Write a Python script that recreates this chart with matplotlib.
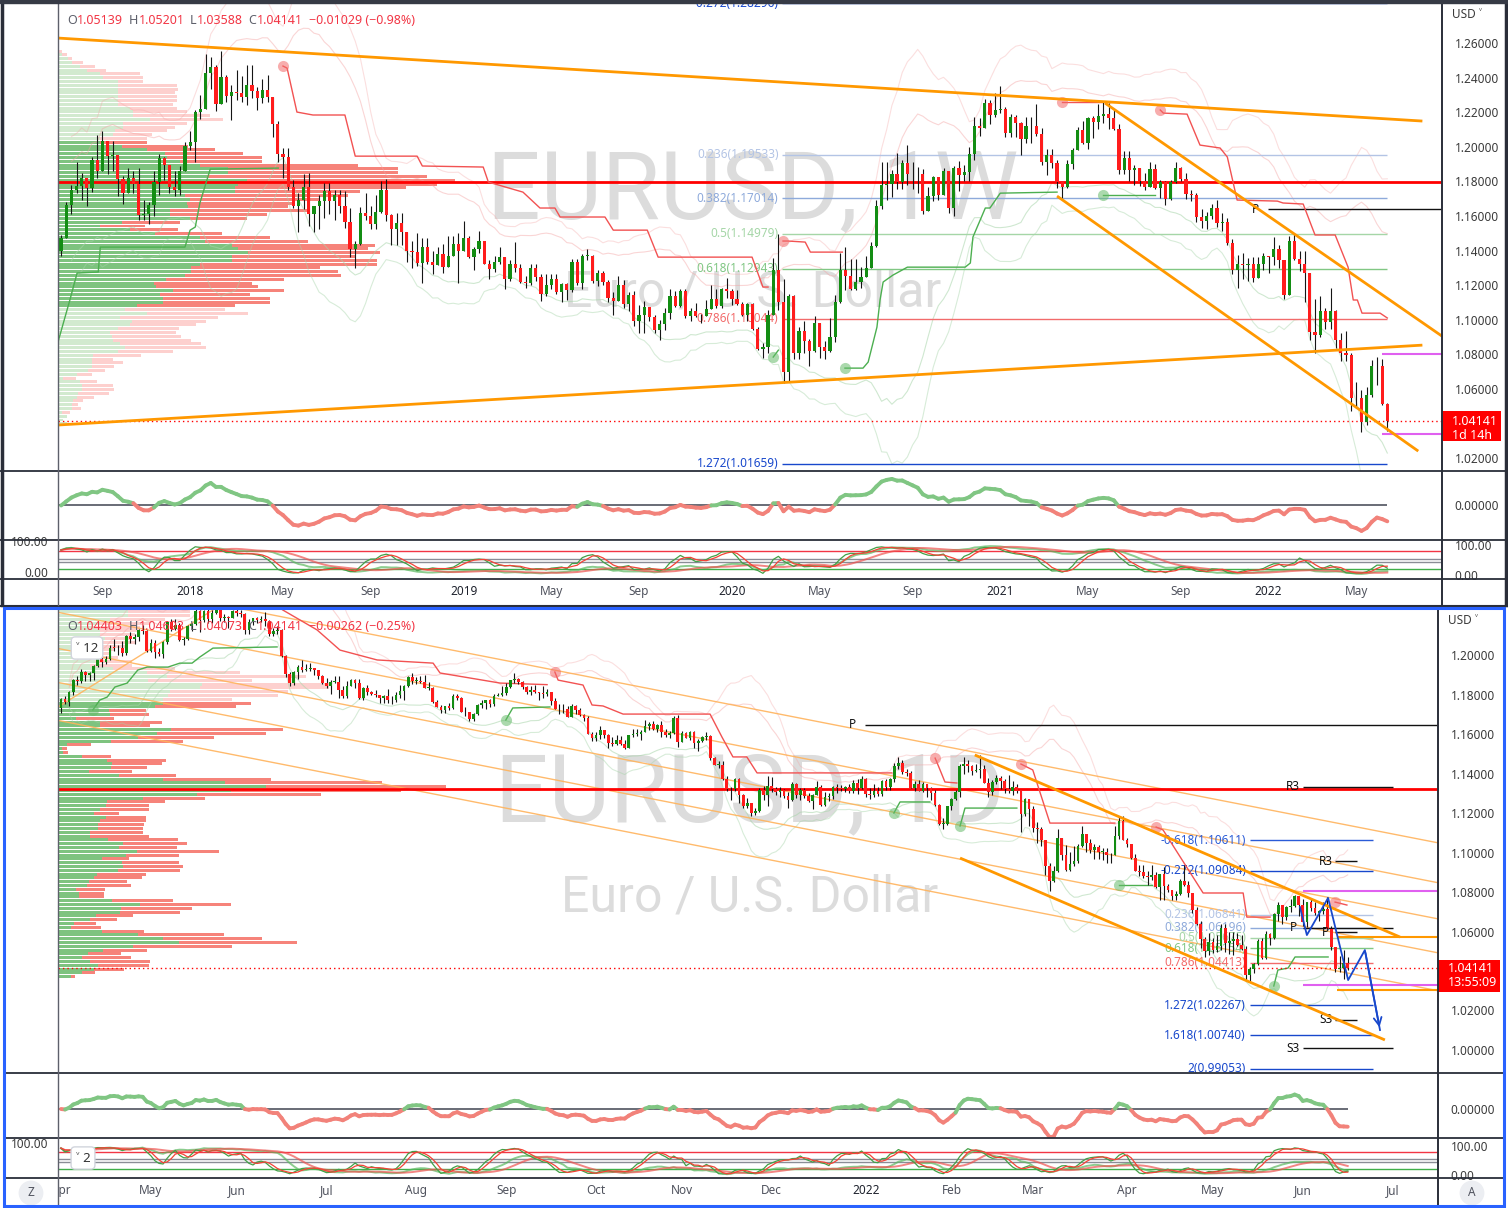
import numpy as np
import pandas as pd
import matplotlib
matplotlib.use("Agg")
import matplotlib.pyplot as plt
from matplotlib.collections import LineCollection
from matplotlib.patches import Rectangle
from matplotlib.lines import Line2D
import matplotlib.transforms as mtrans

# ============================ DATA ============================
# Weekly EURUSD candles, weeks starting 2017-07-10 ... 2022-06-13 (price x 1e4)
W_START = "2017-07-10"
W_OPEN0 = 11398
W_CLOSE = [
 11470, 11665, 11750, 11773, 11820, 11760, 11925, 11860, 12035, 11945, 11950, 11815, 11730, 11820, 11785, 11605, 11610, 11665, 11795, 11935, 11895, 11770, 11750, 11860, 12005,
 12030, 12200, 12220, 12425, 12460, 12250, 12405, 12295, 12315, 12310, 12290, 12355, 12325, 12280, 12330, 12290, 12130, 11960, 11940, 11770, 11655, 11695, 11770, 11610, 11655, 11685, 11745, 11685, 11720, 11655, 11565, 11410, 11440, 11620, 11600, 11555, 11625, 11750, 11605, 11525, 11560, 11510, 11400, 11390, 11330, 11420, 11335, 11315, 11380, 11305, 11370, 11440, 11395,
 11470, 11365, 11410, 11455, 11325, 11295, 11335, 11365, 11235, 11325, 11300, 11220, 11215, 11300, 11245, 11150, 11200, 11235, 11160, 11205, 11170, 11335, 11210, 11370, 11370, 11225, 11270, 11220, 11125, 11110, 11200, 11090, 11145, 10990, 11030, 11075, 11015, 10940, 10975, 11040, 11140, 11080, 11165, 11020, 11050, 11020, 11020, 11060, 11120, 11080, 11175, 11165,
 11120, 11090, 11025, 11090, 10945, 10830, 10845, 11025, 11285, 11105, 10695, 11140, 10805, 10935, 10875, 10820, 10980, 10840, 10820, 10900, 11100, 11290, 11255, 11175, 11220, 11245, 11300, 11425, 11655, 11780, 11785, 11840, 11795, 11905, 11840, 11845, 11840, 11630, 11715, 11825, 11720, 11860, 11645, 11875, 11835, 11855, 11960, 12120, 12110, 12255, 12185, 12215,
 12220, 12080, 12170, 12135, 12045, 12120, 12120, 12075, 11915, 11950, 11905, 11795, 11765, 11900, 11980, 12095, 12020, 12165, 12145, 12180, 12190, 12165, 12105, 11865, 11935, 11865, 11875, 11805, 11770, 11870, 11760, 11795, 11700, 11795, 11880, 11815, 11725, 11720, 11595, 11570, 11600, 11645, 11560, 11565, 11445, 11290, 11320, 11315, 11320, 11240, 11320, 11370,
 11360, 11410, 11345, 11145, 11455, 11350, 11320, 11270, 10930, 10910, 11050, 10985, 11050, 10880, 10810, 10795, 10545, 10550, 10410, 10565, 10735, 10730, 10514, 10414]
W_HIGH = [
 11490, 11680, 11777, 11910, 11850, 11800, 11940, 12070, 12092, 12020, 12035, 11950, 11830, 11880, 11860, 11880, 11690, 11680, 11860, 11960, 11940, 11860, 11860, 11890, 12025,
 12090, 12215, 12300, 12537, 12520, 12475, 12555, 12415, 12355, 12445, 12410, 12475, 12475, 12345, 12395, 12415, 12285, 12150, 11995, 11995, 11810, 11730, 11840, 11850, 11660, 11720, 11790, 11790, 11750, 11750, 11745, 11645, 11455, 11650, 11735, 11660, 11720, 11800, 11815, 11610, 11620, 11620, 11510, 11455, 11500, 11470, 11470, 11400, 11420, 11440, 11485, 11485, 11500,
 11570, 11485, 11420, 11515, 11450, 11345, 11370, 11420, 11360, 11345, 11450, 11325, 11255, 11325, 11325, 11265, 11265, 11265, 11265, 11215, 11215, 11350, 11350, 11380, 11410, 11375, 11285, 11280, 11230, 11160, 11250, 11230, 11160, 11165, 11085, 11110, 11075, 11030, 11000, 11065, 11180, 11165, 11175, 11180, 11070, 11095, 11035, 11115, 11200, 11175, 11185, 11240,
 11175, 11170, 11100, 11095, 11095, 10955, 10865, 11055, 11355, 11495, 11235, 11150, 11145, 10955, 10990, 10890, 11020, 10980, 10875, 11010, 11145, 11385, 11420, 11350, 11350, 11305, 11370, 11450, 11690, 11910, 11915, 11865, 11965, 11925, 12010, 11915, 11885, 11870, 11765, 11830, 11800, 11880, 11860, 11890, 11920, 11895, 12000, 12175, 12165, 12275, 12270, 12310,
 12350, 12230, 12190, 12185, 12145, 12170, 12170, 12245, 12110, 11990, 11990, 11925, 11790, 11925, 11995, 12115, 12150, 12170, 12180, 12245, 12265, 12255, 12220, 12130, 11975, 11975, 11895, 11880, 11850, 11910, 11900, 11810, 11805, 11810, 11910, 11885, 11850, 11750, 11735, 11640, 11625, 11670, 11690, 11615, 11590, 11465, 11375, 11385, 11355, 11360, 11360, 11385,
 11365, 11480, 11435, 11340, 11485, 11495, 11395, 11395, 11230, 11120, 11135, 11070, 11185, 11055, 10925, 10935, 10805, 10640, 10595, 10610, 10765, 10785, 10775, 10520]
W_LOW = [
 11370, 11470, 11612, 11730, 11690, 11660, 11740, 11820, 11860, 11840, 11860, 11715, 11670, 11730, 11730, 11575, 11575, 11555, 11600, 11720, 11810, 11730, 11715, 11720, 11860,
 11980, 11915, 12160, 12220, 12335, 12205, 12250, 12260, 12155, 12270, 12260, 12240, 12285, 12215, 12255, 12260, 12055, 11910, 11820, 11750, 11645, 11510, 11640, 11540, 11510, 11525, 11590, 11610, 11575, 11615, 11530, 11365, 11300, 11430, 11575, 11525, 11525, 11620, 11570, 11430, 11430, 11430, 11335, 11300, 11310, 11215, 11325, 11265, 11320, 11270, 11305, 11370, 11215,
 11395, 11355, 11290, 11385, 11320, 11235, 11275, 11325, 11175, 11225, 11275, 11210, 11185, 11200, 11225, 11110, 11135, 11175, 11150, 11105, 11115, 11160, 11200, 11180, 11345, 11210, 11195, 11200, 11100, 11025, 11110, 11065, 11050, 10965, 10925, 10925, 10990, 10925, 10880, 10940, 11005, 11075, 11075, 11010, 10990, 11015, 10980, 11040, 11065, 11065, 11065, 11125,
 11085, 11085, 11020, 10995, 10940, 10825, 10780, 10810, 11025, 11055, 10635, 10640, 10770, 10770, 10810, 10730, 10815, 10780, 10775, 10815, 10870, 11095, 11170, 11170, 11170, 11185, 11260, 11300, 11420, 11640, 11695, 11710, 11755, 11755, 11780, 11755, 11735, 11610, 11630, 11685, 11690, 11720, 11620, 11600, 11745, 11800, 11800, 11925, 12060, 12125, 12130, 12175,
 12195, 12055, 12055, 12055, 11950, 12020, 12020, 12065, 11895, 11835, 11875, 11760, 11705, 11760, 11870, 11980, 12015, 11985, 12050, 12105, 12135, 12105, 12095, 11845, 11845, 11805, 11780, 11775, 11750, 11770, 11755, 11705, 11665, 11695, 11790, 11800, 11700, 11685, 11565, 11530, 11525, 11580, 11535, 11515, 11430, 11265, 11185, 11235, 11225, 11220, 11265, 11290,
 11270, 11315, 11300, 11120, 11150, 11345, 11280, 11105, 10885, 10805, 10900, 10945, 10945, 10835, 10760, 10760, 10470, 10490, 10350, 10390, 10555, 10625, 10505, 10359]

# Daily EURUSD candles, business days 2021-04-01 ... 2022-06-16 (price x 1e4)
D_START = "2021-04-01"
D_OPEN0 = 11730
D_CLOSE = [
 11775, 11763, 11813, 11873, 11867, 11915, 11900, 11910, 11946, 11980, 11965, 11982, 12037, 12036, 12035, 12012, 12097, 12083, 12092, 12125, 12121, 12020,
 12062, 12016, 12004, 12065, 12165, 12131, 12150, 12075, 12080, 12145, 12155, 12225, 12175, 12225, 12180, 12215, 12250, 12190, 12195, 12190, 12225,
 12212, 12210, 12125, 12165, 12190, 12175, 12180, 12170, 12105, 12120, 12125, 11995, 11905, 11860, 11915, 11940, 11925, 11930, 11935, 11925, 11895, 11860,
 11845, 11865, 11865, 11825, 11790, 11845, 11875, 11860, 11780, 11835, 11815, 11805, 11800, 11780, 11790, 11770, 11770, 11800, 11820, 11845, 11890, 11870,
 11870, 11865, 11835, 11835, 11760, 11735, 11720, 11740, 11730, 11795, 11780, 11710, 11710, 11675, 11700, 11745, 11755, 11770, 11750, 11795, 11800, 11810,
 11840, 11875, 11880, 11865, 11840, 11815, 11825, 11815, 11810, 11805, 11815, 11765, 11725, 11725, 11725, 11685, 11740, 11720, 11695, 11680, 11600, 11580,
 11595, 11620, 11595, 11555, 11550, 11570, 11550, 11530, 11595, 11600, 11600, 11610, 11640, 11650, 11625, 11645, 11610, 11595, 11605, 11680, 11560,
 11605, 11580, 11610, 11555, 11565, 11585, 11590, 11480, 11445, 11445, 11370, 11320, 11320, 11370, 11290, 11235, 11250, 11200, 11210, 11315, 11290, 11335,
 11320, 11305, 11315, 11285, 11265, 11345, 11290, 11315, 11285, 11260, 11290, 11330, 11240, 11280, 11285, 11330, 11325, 11320, 11330, 11310, 11350, 11325, 11370,
 11295, 11290, 11310, 11295, 11360, 11330, 11370, 11440, 11455, 11410, 11405, 11325, 11345, 11310, 11345, 11325, 11300, 11240, 11145, 11145, 11235,
 11270, 11305, 11440, 11450, 11440, 11415, 11420, 11425, 11350, 11305, 11355, 11375, 11360, 11320, 11310, 11330, 11310, 11195, 11270, 11220,
 11125, 11120, 11065, 10930, 10855, 10905, 11075, 10985, 10910, 10940, 10955, 11035, 11095, 11050, 11015, 11030, 11005, 11005, 10985, 10985, 11085, 11160, 11065,
 11045, 10970, 10905, 10900, 10880, 10875, 10885, 10825, 10890, 10830, 10810, 10780, 10790, 10855, 10835, 10795, 10710, 10640, 10560, 10500, 10545,
 10505, 10525, 10620, 10540, 10550, 10560, 10530, 10510, 10380, 10410, 10435, 10550, 10465, 10585, 10565, 10690, 10735, 10675, 10725, 10730, 10780, 10735,
 10650, 10750, 10720, 10695, 10705, 10715, 10615, 10520, 10410, 10415, 10440, 10414]
D_HIGH = [
 11780, 11790, 11820, 11880, 11895, 11928, 11920, 11915, 11950, 11990, 11990, 11995, 12050, 12080, 12050, 12070, 12100, 12115, 12105, 12130, 12150, 12125,
 12080, 12075, 12035, 12070, 12170, 12180, 12180, 12160, 12090, 12150, 12160, 12245, 12230, 12230, 12235, 12230, 12266, 12260, 12210, 12200, 12230,
 12255, 12230, 12215, 12180, 12190, 12195, 12200, 12218, 12175, 12135, 12145, 12130, 12000, 11915, 11920, 11950, 11975, 11955, 11960, 11935, 11920, 11900,
 11885, 11875, 11895, 11895, 11845, 11870, 11880, 11880, 11880, 11840, 11850, 11820, 11825, 11800, 11800, 11830, 11795, 11815, 11850, 11850, 11895, 11910,
 11890, 11895, 11900, 11865, 11840, 11770, 11745, 11740, 11755, 11805, 11805, 11785, 11735, 11710, 11705, 11750, 11770, 11770, 11775, 11805, 11810, 11845,
 11860, 11870, 11910, 11885, 11870, 11845, 11845, 11850, 11815, 11845, 11830, 11815, 11780, 11750, 11750, 11740, 11750, 11745, 11730, 11700, 11690, 11610,
 11610, 11640, 11620, 11600, 11585, 11595, 11590, 11570, 11595, 11625, 11625, 11620, 11670, 11660, 11665, 11650, 11665, 11625, 11615, 11690, 11695,
 11615, 11610, 11615, 11615, 11575, 11590, 11610, 11595, 11485, 11465, 11465, 11385, 11330, 11375, 11375, 11295, 11275, 11250, 11225, 11325, 11335, 11385,
 11380, 11330, 11330, 11320, 11305, 11355, 11350, 11325, 11325, 11300, 11295, 11360, 11340, 11305, 11300, 11335, 11345, 11340, 11335, 11345, 11365, 11370, 11385,
 11375, 11325, 11345, 11330, 11365, 11370, 11375, 11455, 11482, 11470, 11425, 11415, 11360, 11365, 11355, 11345, 11330, 11315, 11245, 11175, 11235,
 11275, 11315, 11450, 11485, 11470, 11445, 11450, 11495, 11445, 11375, 11365, 11395, 11385, 11370, 11395, 11360, 11345, 11275, 11275, 11255,
 11235, 11155, 11130, 11065, 10945, 10930, 11120, 11065, 11040, 11005, 11035, 11045, 11135, 11075, 11070, 11045, 11040, 11025, 11025, 11000, 11135, 11185, 11185,
 11075, 11040, 10990, 10935, 10935, 10905, 10935, 10900, 10890, 10925, 10840, 10810, 10805, 10865, 10935, 10855, 10790, 10725, 10655, 10570, 10590,
 10565, 10580, 10640, 10640, 10595, 10600, 10590, 10580, 10525, 10420, 10440, 10560, 10565, 10605, 10590, 10695, 10750, 10735, 10730, 10765, 10787, 10775,
 10765, 10750, 10765, 10750, 10710, 10750, 10775, 10630, 10500, 10475, 10506, 10469]
D_LOW = [
 11705, 11750, 11740, 11800, 11850, 11860, 11870, 11870, 11875, 11940, 11940, 11955, 11975, 12020, 12000, 11995, 12000, 12060, 12055, 12070, 12105, 12015,
 12015, 11985, 11995, 11985, 12055, 12120, 12125, 12070, 12050, 12075, 12120, 12150, 12115, 12165, 12160, 12160, 12210, 12170, 12165, 12135, 12190,
 12200, 12195, 12105, 12105, 12150, 12160, 12165, 12145, 12095, 12095, 12105, 11990, 11890, 11845, 11850, 11880, 11915, 11920, 11920, 11900, 11880, 11855,
 11835, 11805, 11860, 11780, 11780, 11780, 11845, 11835, 11775, 11770, 11800, 11800, 11785, 11755, 11755, 11755, 11750, 11760, 11780, 11770, 11840, 11855,
 11855, 11860, 11835, 11825, 11755, 11735, 11705, 11705, 11720, 11725, 11770, 11710, 11690, 11665, 11665, 11695, 11730, 11725, 11735, 11740, 11790, 11795,
 11800, 11835, 11860, 11855, 11830, 11805, 11800, 11810, 11770, 11780, 11790, 11745, 11725, 11700, 11705, 11685, 11685, 11700, 11690, 11665, 11600, 11565,
 11565, 11575, 11580, 11530, 11540, 11545, 11545, 11525, 11530, 11585, 11590, 11570, 11610, 11620, 11620, 11610, 11585, 11585, 11580, 11600, 11535,
 11560, 11580, 11570, 11530, 11515, 11560, 11570, 11470, 11445, 11430, 11365, 11310, 11265, 11310, 11250, 11225, 11225, 11185, 11190, 11205, 11265, 11235,
 11305, 11290, 11280, 11275, 11225, 11260, 11275, 11265, 11275, 11255, 11220, 11290, 11235, 11235, 11260, 11270, 11300, 11310, 11305, 11300, 11300, 11295, 11320,
 11280, 11270, 11280, 11285, 11285, 11315, 11315, 11355, 11425, 11400, 11385, 11325, 11310, 11310, 11305, 11280, 11265, 11235, 11140, 11120, 11140,
 11215, 11265, 11280, 11400, 11410, 11395, 11410, 11375, 11350, 11280, 11290, 11345, 11320, 11300, 11300, 11290, 11300, 11105, 11185, 11135,
 11105, 11050, 11035, 10885, 10805, 10850, 10900, 10960, 10905, 10905, 10930, 10945, 11030, 11005, 11000, 10965, 10965, 10960, 10945, 10945, 10985, 11070, 11065,
 11030, 10965, 10905, 10880, 10870, 10835, 10860, 10820, 10760, 10760, 10800, 10760, 10760, 10785, 10830, 10775, 10695, 10635, 10515, 10470, 10480,
 10490, 10495, 10505, 10495, 10485, 10480, 10525, 10505, 10355, 10350, 10390, 10430, 10460, 10460, 10530, 10560, 10655, 10640, 10660, 10700, 10725, 10680,
 10630, 10625, 10705, 10685, 10655, 10690, 10615, 10505, 10395, 10395, 10358, 10407]

LAST_PRICE = 1.04141
W_HEADER = [("O", "1.05139"), ("H", "1.05201"), ("L", "1.03588"), ("C", "1.04141")]
W_CHANGE = "\u22120.01029 (\u22120.98%)"
D_HEADER = [("O", "1.04403"), ("H", "1.04693"), ("L", "1.04073"), ("C", "1.04141")]
D_CHANGE = "\u22120.00262 (\u22120.25%)"
W_COUNTDOWN = "1d 14h"
D_COUNTDOWN = "13:55:09"

# Weekly volume profile (rows from 1.2554 downwards, step 0.0022): total and up-volume
W_VP_TOP, W_VP_STEP = 1.2554, 0.0022
W_VP_VALUE_AREA = (24, 67)
W_VP_TOTAL = [4, 9, 14, 25, 37, 48, 82, 85, 85, 119, 120, 117, 119, 119, 115, 119, 129, 152, 165, 129,
              117, 109, 94, 89, 89, 130, 157, 185, 204, 204, 300, 340, 340, 369, 397, 379, 348, 302, 290, 262,
              237, 230, 249, 209, 189, 122, 87, 120, 164, 212, 250, 317, 310, 322, 297, 319, 319, 262, 280, 283,
              226, 194, 200, 226, 192, 212, 212, 177, 167, 190, 160, 148, 138, 121, 118, 123, 133, 143, 148, 115,
              83, 55, 65, 56, 47, 34, 18, 39, 55, 56, 51, 36, 25, 20, 23, 12, 9, 5, 9]
W_VP_UP = [0, 4, 10, 14, 22, 29, 42, 45, 60, 60, 60, 60, 60, 60, 60, 72, 75, 75, 92, 65,
           65, 57, 55, 42, 42, 64, 89, 107, 109, 122, 142, 170, 170, 149, 189, 180, 177, 177, 127, 132,
           129, 130, 112, 112, 132, 64, 42, 72, 97, 142, 147, 174, 180, 190, 174, 174, 142, 133, 133, 127,
           108, 96, 98, 115, 102, 105, 105, 79, 67, 89, 62, 74, 72, 60, 52, 54, 55, 62, 67, 60,
           35, 34, 34, 34, 30, 19, 5, 22, 24, 24, 20, 19, 15, 14, 14, 4, 9, 5, 9]

# Daily volume profile (rows from 1.2218 downwards, step 0.001924)
D_VP_TOP, D_VP_STEP = 1.2218, 0.001924
D_VP_VALUE_AREA = (24, 96)
D_VP_TOTAL = [132, 132, 107, 92, 82, 82, 77, 72, 77, 67, 57, 52, 60, 74, 74, 117, 182, 248, 194, 272,
              271, 230, 220, 174, 193, 178, 88, 91, 56, 104, 92, 225, 208, 156, 125, 33, 9, 10, 53, 108,
              104, 89, 74, 118, 213, 324, 388, 343, 263, 147, 107, 91, 91, 61, 88, 88, 86, 85, 85, 91,
              120, 129, 119, 161, 121, 71, 121, 125, 122, 88, 84, 69, 73, 47, 46, 46, 115, 173, 134, 122,
              75, 59, 38, 43, 86, 166, 204, 239, 174, 89, 63, 73, 92, 91, 66, 37, 17]
D_VP_UP = [70, 70, 52, 42, 37, 42, 42, 47, 37, 32, 27, 22, 27, 37, 32, 55, 89, 109, 90, 144,
           142, 112, 110, 105, 105, 97, 51, 52, 18, 42, 42, 113, 99, 80, 53, 9, 4, 5, 24, 49,
           54, 53, 31, 61, 105, 167, 208, 173, 139, 85, 49, 48, 42, 36, 48, 42, 40, 40, 32, 32,
           50, 65, 61, 79, 68, 44, 64, 65, 60, 39, 36, 31, 29, 18, 21, 21, 54, 82, 63, 62,
           38, 32, 16, 13, 44, 80, 105, 121, 75, 45, 30, 24, 32, 40, 36, 24, 13]

# Weekly drawings (bar index, price)
W_TRENDLINES = [[(-0.6, 1.2629), (263.8, 1.2149)], [(-0.6, 1.0391), (263.8, 1.0853)],
                [(202.3, 1.2253), (267.6, 1.0905)], [(193.0, 1.1715), (263.0, 1.0240)]]
W_RED_LEVEL = 1.1796
W_FIB_LEVELS = [-0.272, 0.236, 0.382, 0.5, 0.618, 0.786, 1.272]
W_FIB_PRICES = [1.28296, 1.19533, 1.17014, 1.14979, 1.12943, 1.10044, 1.01659]
W_FIB_SPAN = (139.7, 257.0)
W_PIVOT = (1.1640, 233.9, "P")
W_MAGENTA = ([1.0801, 1.0339], 256.0)
W_TRAIL_RED = [
 [(43.0, 1.2467), (43.8, 1.2455), (45.7, 1.2201), (48.8, 1.2184), (55.0, 1.2184), (57.0, 1.1946), (69.0, 1.1946), (70.0, 1.1889), (81.8, 1.1883), (82.8, 1.1796), (89.5, 1.1738), (92.8, 1.1646), (95.7, 1.1646), (96.7, 1.1594), (105.4, 1.1594), (107.0, 1.1518), (113.6, 1.1518), (115.7, 1.1362), (133.9, 1.1362), (136.0, 1.1189), (137.0, 1.1189)],
 [(139.9, 1.1455), (140.9, 1.1455), (144.2, 1.1449), (145.2, 1.1391), (151.4, 1.1391)],
 [(194.0, 1.2259), (203.3, 1.2259)],
 [(213.0, 1.2213), (213.6, 1.2195), (218.2, 1.2189), (220.7, 1.2010), (224.6, 1.1993), (226.0, 1.1941), (227.9, 1.1692), (235.7, 1.1686), (236.8, 1.1675), (240.7, 1.1669), (242.4, 1.1536), (243.0, 1.1490), (246.9, 1.1490), (249.4, 1.1304), (250.4, 1.1114), (251.2, 1.1114), (252.1, 1.1038), (255.6, 1.1038), (257.0, 1.1010)]]
W_TRAIL_GREEN = [
 [(-0.6, 1.0871), (1.7, 1.1114), (3.1, 1.1270), (7.2, 1.1276), (7.6, 1.1420), (24.0, 1.1420), (25.0, 1.1518), (26.0, 1.1536), (26.9, 1.1675), (28.9, 1.1871), (42.1, 1.1877)],
 [(138.0, 1.0784), (139.0, 1.0824)],
 [(151.9, 1.0720), (155.4, 1.0720), (156.4, 1.0755), (158.1, 1.0957), (158.7, 1.1114), (159.3, 1.1218), (161.2, 1.1258), (164.0, 1.1304), (175.2, 1.1304), (176.2, 1.1328), (176.7, 1.1478), (179.1, 1.1646), (180.0, 1.1646), (182.0, 1.1732), (193.0, 1.1738)],
 [(201.9, 1.1721), (212.0, 1.1721)]]
W_TRAIL_RED_DOT = [True, True, True, True]
W_TRAIL_GREEN_DOT = [False, True, True, True]

# Daily drawings (bar index, price)
D_THIN_CHANNEL = [[(-0.7, 1.2415), (337.1, 1.1049)], [(-0.7, 1.2216), (337.1, 1.0847)],
                  [(-0.7, 1.2033), (337.1, 1.0664)], [(-0.7, 1.1861), (337.1, 1.0492)],
                  [(-0.7, 1.1669), (337.1, 1.0300)], [(-0.7, 1.1737), (37.2, 1.2228)]]
D_THICK_CHANNEL = [[(223.7, 1.1494), (327.8, 1.0572)], [(220.1, 1.0972), (324.1, 1.0051)]]
D_ORANGE_LEVELS = ([1.0572, 1.0304], 312.4)
D_RED_LEVEL = 1.1322
D_FIB_LEVELS = [-0.618, -0.272, 0.236, 0.382, 0.5, 0.618, 0.786, 1.272, 1.618, 2]
D_FIB_PRICES = [1.10611, 1.09084, 1.06841, 1.06196, 1.05675, 1.05154, 1.04413, 1.02267, 1.00740, 0.99053]
D_FIB_SPAN = (291.1, 321.2)
D_PIVOT_MAIN = (1.1646, 196.8, "P")
D_PIVOTS_LONG = [(1.1332, "R3"), (1.0618, "P"), (1.0010, "S3")]
D_PIVOTS_SHORT = [(1.0957, "R3"), (1.0597, "P"), (1.0152, "S3")]
D_PIVOT_LONG_SPAN = (304.0, 326.1)
D_PIVOT_SHORT_SPAN = (311.9, 317.3)
D_MAGENTA = ([1.0805, 1.0329], 304.0)
D_PATH = [(303.3, 1.0724), (305.0, 1.0582), (310.2, 1.0770), (315.1, 1.0354), (319.2, 1.0506), (322.9, 1.0101)]
D_TRAIL_RED = [
 [(50.0, 1.2290), (54.3, 1.2228), (62.7, 1.2127), (68.3, 1.2025), (77.4, 1.1975), (91.1, 1.1959), (92.8, 1.1909), (107.5, 1.1858), (119.0, 1.1850)],
 [(120.9, 1.1914), (121.7, 1.1873), (127.8, 1.1848), (130.0, 1.1747), (132.7, 1.1742), (137.6, 1.1701), (158.9, 1.1701), (161.8, 1.1585), (164.5, 1.1484), (167.9, 1.1484), (170.4, 1.1403), (203.4, 1.1403)],
 [(214.0, 1.1478), (215.2, 1.1418), (216.4, 1.1357), (219.3, 1.1352)],
 [(235.0, 1.1448), (237.9, 1.1418), (242.1, 1.1149), (258.0, 1.1149)],
 [(268.1, 1.1129), (269.8, 1.1114), (279.6, 1.0795), (289.4, 1.0795), (290.3, 1.0673), (296.0, 1.0673)],
 [(311.9, 1.0749), (314.8, 1.0734)]]
D_TRAIL_GREEN = [
 [(7.8, 1.1722), (9.5, 1.1772), (11.3, 1.1787), (13.2, 1.1838), (16.2, 1.1858), (18.8, 1.1924), (21.1, 1.1939), (26.2, 1.1939), (29.1, 1.1959), (32.1, 1.1959), (34.0, 1.1990), (37.2, 1.2035), (52.9, 1.2041)],
 [(108.9, 1.1671), (110.6, 1.1732), (119.7, 1.1737)],
 [(203.9, 1.1200), (205.4, 1.1256), (212.7, 1.1256)],
 [(220.1, 1.1134), (221.3, 1.1225), (234.0, 1.1225)],
 [(259.0, 1.0835), (267.1, 1.0835)],
 [(296.9, 1.0324), (297.9, 1.0405), (300.4, 1.0415), (302.1, 1.0471), (310.2, 1.0471)]]
D_TRAIL_RED_DOT = [False, True, True, True, True, True]
D_TRAIL_GREEN_DOT = [True, True, True, True, True, True]

W_TIME_LABELS = [(2017, 9, "Sep"), (2018, 1, "2018"), (2018, 5, "May"), (2018, 9, "Sep"), (2019, 1, "2019"),
                 (2019, 5, "May"), (2019, 9, "Sep"), (2020, 1, "2020"), (2020, 5, "May"), (2020, 9, "Sep"),
                 (2021, 1, "2021"), (2021, 5, "May"), (2021, 9, "Sep"), (2022, 1, "2022"), (2022, 5, "May")]
D_TIME_LABELS = [(2021, 4, "Apr"), (2021, 5, "May"), (2021, 6, "Jun"), (2021, 7, "Jul"), (2021, 8, "Aug"),
                 (2021, 9, "Sep"), (2021, 10, "Oct"), (2021, 11, "Nov"), (2021, 12, "Dec"), (2022, 1, "2022"),
                 (2022, 2, "Feb"), (2022, 3, "Mar"), (2022, 4, "Apr"), (2022, 5, "May"), (2022, 6, "Jun"),
                 (2022, 7, "Jul")]
W_PRICE_TICKS = [1.02, 1.04, 1.06, 1.08, 1.10, 1.12, 1.14, 1.16, 1.18, 1.20, 1.22, 1.24, 1.26]
D_PRICE_TICKS = [1.00, 1.02, 1.04, 1.06, 1.08, 1.10, 1.12, 1.14, 1.16, 1.18, 1.20]
STOCH_LEVELS = [80, 55, 45, 20]

# ============================ STYLE ============================
plt.rcParams['font.family'] = ['Noto Sans', 'DejaVu Sans']
W, H = 1508, 1208
GREEN_C, RED_C = '#138d13', '#ff1c1c'
ORANGE = '#ff9800'
DARK = '#2a2e39'
TXT = '#3a3a3a'
FIB_COLORS = {-0.618: '#2a5bd7', -0.272: '#1848cc', 0.236: '#b3c4e5', 0.382: '#8eaadb', 0.5: '#a5d6a7',
              0.618: '#81c784', 0.786: '#f26b6b', 1.272: '#1848cc', 1.618: '#1848cc', 2: '#1848cc'}
FS = 8.5

fig = plt.figure(figsize=(W / 100, H / 100), dpi=100)
fig.patch.set_facecolor('white')


def px_rect(x0, y0, x1, y1):
    return [x0 / W, 1 - y1 / H, (x1 - x0) / W, (y1 - y0) / H]


def fig_line(x0, y0, x1, y1, color=DARK, lw=1.3, z=10):
    fig.add_artist(Line2D([x0 / W, x1 / W], [1 - y0 / H, 1 - y1 / H], transform=fig.transFigure,
                          color=color, lw=lw, zorder=z))


def clean(ax):
    for s in ax.spines.values():
        s.set_visible(False)
    ax.set_xticks([])
    ax.set_facecolor('none')


def ohlc(o0, c, h, l):
    c = np.array(c, float) / 1e4
    o = np.concatenate([[o0 / 1e4], c[:-1]])
    h = np.maximum(np.array(h, float) / 1e4, np.maximum(o, c))
    l = np.minimum(np.array(l, float) / 1e4, np.minimum(o, c))
    return o, h, l, c


def candles(ax, o, h, l, c, width):
    x = np.arange(len(c))
    ax.vlines(x, l, h, colors='#151515', linewidth=0.8, zorder=4)
    lo = np.minimum(o, c)
    hg = np.maximum(np.abs(c - o), 0.0003)
    up = c >= o
    ax.bar(x[up], hg[up], bottom=lo[up], width=width, color=GREEN_C, linewidth=0, zorder=5)
    ax.bar(x[~up], hg[~up], bottom=lo[~up], width=width, color=RED_C, linewidth=0, zorder=5)


def bands(ax, c, n=20):
    s = pd.Series(c)
    m = s.rolling(n, min_periods=3).mean()
    sd = s.rolling(n, min_periods=3).std()
    x = np.arange(len(c))
    for k, a in ((2.0, 0.45), (3.0, 0.35)):
        ax.plot(x, m + k * sd, color='#f4a3a3', lw=0.8, alpha=a, zorder=1)
        ax.plot(x, m - k * sd, color='#a8d5aa', lw=0.8, alpha=a + 0.1, zorder=1)


def volume_profile(axp, top, step, total, up, va):
    total = np.array(total, float)
    up = np.array(up, float)
    y = top - step * np.arange(len(total))
    dark = (np.arange(len(total)) >= va[0]) & (np.arange(len(total)) <= va[1])
    g = np.where(dark, '#7ec37f', '#d2eacf')
    r = np.where(dark, '#f6837a', '#fdd0ce')
    axp.barh(y, up, height=step * 0.78, left=0, color=g, linewidth=0, zorder=2)
    axp.barh(y, total - up, height=step * 0.78, left=up, color=r, linewidth=0, zorder=2)


def trails(ax, segs, color, dots, dot_color):
    for seg, d in zip(segs, dots):
        xs, ys = zip(*seg)
        ax.plot(xs, ys, color=color, lw=1.0, zorder=3)
        if d:
            ax.plot(xs[0], ys[0], 'o', ms=8, color=dot_color, alpha=0.55, mec='none', zorder=3)


def oscillator(ax, c, last):
    s = pd.Series(c)
    osc = (s.ewm(span=5, adjust=False).mean() - s.ewm(span=13, adjust=False).mean()).values
    x = np.arange(len(c))
    pts = np.column_stack([x, osc])
    segs = np.stack([pts[:-1], pts[1:]], axis=1)
    mid = (osc[:-1] + osc[1:]) / 2
    cols = np.where(mid >= 0, '#80c683', '#f2827a')
    ax.add_collection(LineCollection(segs, colors=cols, linewidths=2.8, capstyle='round', zorder=3))
    ax.hlines(0, -1, last, color='#5d606b', lw=1.3, zorder=2)
    return osc


def stoch(c, h, l, n, ks, ds):
    sc, sh, sl = pd.Series(c), pd.Series(h), pd.Series(l)
    ll = sl.rolling(n, min_periods=1).min()
    hh = sh.rolling(n, min_periods=1).max()
    raw = 100 * (sc - ll) / (hh - ll).replace(0, np.nan)
    k = raw.rolling(ks, min_periods=1).mean()
    d = k.rolling(ds, min_periods=1).mean()
    return k.values, d.values


def stoch_panel(ax, c, h, l):
    x = np.arange(len(c))
    kf, df = stoch(c, h, l, 14, 3, 3)
    ks, dsl = stoch(c, h, l, 52, 5, 8)
    ax.plot(x, ks, color='#5cb860', lw=1.4, alpha=0.7, zorder=2)
    ax.plot(x, dsl, color='#ef5350', lw=1.4, alpha=0.7, zorder=2)
    ax.plot(x, kf, color='#43a047', lw=0.9, zorder=3)
    ax.plot(x, df, color='#f44336', lw=0.9, zorder=3)
    ax.axhline(STOCH_LEVELS[0], color='#f23645', lw=1.0, zorder=1)
    ax.axhline(STOCH_LEVELS[1], color='#8a8d96', lw=1.0, zorder=1)
    ax.axhline(STOCH_LEVELS[2], color='#8a8d96', lw=1.0, zorder=1)
    ax.axhline(STOCH_LEVELS[3], color='#3fae49', lw=1.0, zorder=1)


def right_ticks(ax, ticks, fmt):
    ax.yaxis.tick_right()
    ax.set_yticks(ticks)
    ax.set_yticklabels([fmt % t for t in ticks])
    ax.tick_params(axis='y', length=0, pad=9, labelsize=FS, labelcolor=TXT)


def time_axis(axt, dates, labels):
    tr = mtrans.blended_transform_factory(axt.transData, axt.transAxes)
    for (yy, mm, lab) in labels:
        pos = int(np.searchsorted(dates.values, np.datetime64(pd.Timestamp(yy, mm, 1))))
        bold = lab.isdigit()
        t = axt.text(pos, 0.52, lab, transform=tr, ha='center', va='center', fontsize=FS,
                     color='#1e222d' if bold else '#50535e', fontweight='bold' if bold else 'normal')
        t.set_clip_box(axt.bbox)
        t.set_clip_on(True)


def header(ax, x_px, y_px, parts, change):
    items = []
    for i, (k, v) in enumerate(parts):
        items.append((k, '#5d606b', 4 if i else 0))
        items.append((v, '#f23645', 0.3))
    items.append((change, '#f23645', 4))
    prev = None
    for s, col, gap in items:
        if prev is None:
            prev = ax.text(x_px / W, 1 - y_px / H, s, transform=fig.transFigure, color=col,
                           fontsize=9, ha='left', va='center', zorder=12)
        else:
            prev = ax.annotate(s, xy=(1, 0.5), xycoords=prev, xytext=(gap, 0), textcoords='offset points',
                               color=col, fontsize=9, ha='left', va='center', zorder=12,
                               annotation_clip=False)


def price_box(ax, price, sub, up_px, dn_px, ppx, right_frac):
    tr = mtrans.blended_transform_factory(ax.transAxes, ax.transData)
    ax.add_patch(Rectangle((1.0, price - dn_px / ppx), right_frac, (up_px + dn_px) / ppx, transform=tr,
                           facecolor='#ff0000', edgecolor='none', clip_on=False, zorder=20))
    ax.text(1.0 + 0.0075, price, '%.5f' % price, transform=tr, color='white', fontsize=FS + 0.5,
            fontweight='bold', va='center', ha='left', clip_on=False, zorder=21)
    ax.text(1.0 + 0.0075, price - 14 / ppx, sub, transform=tr, color='white', fontsize=FS + 0.5,
            va='center', ha='left', clip_on=False, zorder=21)


# ============================ WEEKLY PANE ============================
wo, wh, wl, wc = ohlc(W_OPEN0, W_CLOSE, W_HIGH, W_LOW)
nW = len(wc)
W_XLIM = (-0.6, 267.6)
W_YLIM = (1.0125, 1.2826)
W_PPX = 1729.0

axp1 = fig.add_axes(px_rect(58, 4, 1442, 471), label='vp1')
axp1.set_xlim(0, 1384)
axp1.set_ylim(*W_YLIM)
axp1.axis('off')
volume_profile(axp1, W_VP_TOP, W_VP_STEP, W_VP_TOTAL, W_VP_UP, W_VP_VALUE_AREA)
axp1.text(0.502, 0.597, 'EURUSD, 1W', transform=axp1.transAxes, ha='center', va='center', fontsize=68,
          family='Roboto', color='#dcdcdc', zorder=0)
axp1.text(0.502, 0.383, 'Euro / U.S. Dollar', transform=axp1.transAxes, ha='center', va='center',
          fontsize=36, family='Roboto', color='#dcdcdc', zorder=0)

ax1 = fig.add_axes(px_rect(58, 4, 1442, 471), label='main1')
clean(ax1)
ax1.set_xlim(*W_XLIM)
ax1.set_ylim(*W_YLIM)
bands(ax1, wc)
ax1.axhline(W_RED_LEVEL, color='#ff0000', lw=2.0, zorder=3)
for lv, pr in zip(W_FIB_LEVELS, W_FIB_PRICES):
    col = FIB_COLORS[lv]
    ax1.hlines(pr, W_FIB_SPAN[0], W_FIB_SPAN[1], color=col, lw=1.0, zorder=2)
    t = ax1.text(W_FIB_SPAN[0] - 0.7, pr, '%g(%.5f)' % (lv, pr), color=col, fontsize=FS,
                 ha='right', va='center', zorder=2)
    t.set_clip_box(ax1.bbox)
    t.set_clip_on(True)
ax1.hlines(W_PIVOT[0], W_PIVOT[1], W_XLIM[1], color='#111111', lw=1.0, zorder=3)
ax1.text(W_PIVOT[1] - 2.5, W_PIVOT[0], W_PIVOT[2], fontsize=FS, color='#111111', ha='center', va='center', zorder=6)
for lvl in W_MAGENTA[0]:
    ax1.hlines(lvl, W_MAGENTA[1], W_XLIM[1], color='#e060f0', lw=1.5, zorder=3)
trails(ax1, W_TRAIL_RED, '#f25252', W_TRAIL_RED_DOT, '#f26b6b')
trails(ax1, W_TRAIL_GREEN, '#4caf50', W_TRAIL_GREEN_DOT, '#66bb6a')
ax1.axhline(LAST_PRICE, color='#ff0000', lw=1.0, ls=(0, (1, 2.2)), zorder=3)
candles(ax1, wo, wh, wl, wc, 0.62)
for (p0, p1) in W_TRENDLINES:
    ax1.plot([p0[0], p1[0]], [p0[1], p1[1]], color=ORANGE, lw=2.0, solid_capstyle='butt', zorder=6)
right_ticks(ax1, W_PRICE_TICKS, '%.5f')
price_box(ax1, LAST_PRICE, W_COUNTDOWN, 10, 20, W_PPX, 59 / 1384)
header(ax1, 67, 20, W_HEADER, W_CHANGE)

ax1o = fig.add_axes(px_rect(58, 471, 1442, 540))
clean(ax1o)
ax1o.set_xlim(*W_XLIM)
w_osc = oscillator(ax1o, wc, nW - 1)
m = np.nanmax(np.abs(w_osc))
ax1o.set_ylim(-1.3 * m, 1.3 * m)
right_ticks(ax1o, [0], '%.5f')

ax1s = fig.add_axes(px_rect(58, 540, 1442, 579))
clean(ax1s)
ax1s.set_xlim(*W_XLIM)
stoch_panel(ax1s, wc, wh, wl)
ax1s.set_ylim(-13.3, 116.7)
right_ticks(ax1s, [0, 100], '%.2f')

ax1t = fig.add_axes(px_rect(58, 579, 1442, 605))
clean(ax1t)
ax1t.set_yticks([])
ax1t.set_xlim(*W_XLIM)
w_dates = pd.date_range(W_START, periods=nW + 20, freq='7D')
time_axis(ax1t, w_dates, W_TIME_LABELS)

# ============================ DAILY PANE ============================
do_, dh, dl, dc = ohlc(D_OPEN0, D_CLOSE, D_HIGH, D_LOW)
nD = len(dc)
D_XLIM = (-0.73, 337.1)
D_YLIM = (0.98835, 1.2228)
D_PPX = 1975.0

axp2 = fig.add_axes(px_rect(58, 610, 1438, 1073), label='vp2')
axp2.set_xlim(0, 1380)
axp2.set_ylim(*D_YLIM)
axp2.axis('off')
volume_profile(axp2, D_VP_TOP, D_VP_STEP, D_VP_TOTAL, D_VP_UP, D_VP_VALUE_AREA)
axp2.text(0.501, 0.600, 'EURUSD, 1D', transform=axp2.transAxes, ha='center', va='center', fontsize=68,
          family='Roboto', color='#dcdcdc', zorder=0)
axp2.text(0.501, 0.380, 'Euro / U.S. Dollar', transform=axp2.transAxes, ha='center', va='center',
          fontsize=36, family='Roboto', color='#dcdcdc', zorder=0)

ax2 = fig.add_axes(px_rect(58, 610, 1438, 1073), label='main2')
clean(ax2)
ax2.set_xlim(*D_XLIM)
ax2.set_ylim(*D_YLIM)
bands(ax2, dc)
for (p0, p1) in D_THIN_CHANNEL:
    ax2.plot([p0[0], p1[0]], [p0[1], p1[1]], color='#ffb35c', lw=1.0, alpha=0.9, zorder=2)
ax2.axhline(D_RED_LEVEL, color='#ff0000', lw=2.0, zorder=3)
for lv, pr in zip(D_FIB_LEVELS, D_FIB_PRICES):
    col = FIB_COLORS[lv]
    ax2.hlines(pr, D_FIB_SPAN[0], D_FIB_SPAN[1], color=col, lw=1.0, zorder=2)
    t = ax2.text(D_FIB_SPAN[0] - 1.0, pr, '%g(%.5f)' % (lv, pr), color=col, fontsize=FS,
                 ha='right', va='center', zorder=2)
    t.set_clip_box(ax2.bbox)
    t.set_clip_on(True)
ax2.hlines(D_PIVOT_MAIN[0], D_PIVOT_MAIN[1], D_XLIM[1], color='#111111', lw=1.0, zorder=3)
ax2.text(D_PIVOT_MAIN[1] - 3.0, D_PIVOT_MAIN[0], D_PIVOT_MAIN[2], fontsize=FS, color='#111111',
         ha='center', va='center', zorder=6)
for lvl, lab in D_PIVOTS_LONG:
    ax2.hlines(lvl, D_PIVOT_LONG_SPAN[0], D_PIVOT_LONG_SPAN[1], color='#111111', lw=1.0, zorder=3)
    ax2.text(D_PIVOT_LONG_SPAN[0] - 2.4, lvl, lab, fontsize=FS, color='#111111', ha='center', va='center', zorder=6)
for lvl, lab in D_PIVOTS_SHORT:
    ax2.hlines(lvl, D_PIVOT_SHORT_SPAN[0], D_PIVOT_SHORT_SPAN[1], color='#111111', lw=1.0, zorder=3)
    ax2.text(D_PIVOT_SHORT_SPAN[0] - 2.3, lvl, lab, fontsize=FS, color='#111111', ha='center', va='center', zorder=6)
for lvl in D_MAGENTA[0]:
    ax2.hlines(lvl, D_MAGENTA[1], D_XLIM[1], color='#e060f0', lw=1.5, zorder=3)
for lvl in D_ORANGE_LEVELS[0]:
    ax2.hlines(lvl, D_ORANGE_LEVELS[1], D_XLIM[1], color=ORANGE, lw=1.5, zorder=3)
trails(ax2, D_TRAIL_RED, '#f25252', D_TRAIL_RED_DOT, '#f26b6b')
trails(ax2, D_TRAIL_GREEN, '#4caf50', D_TRAIL_GREEN_DOT, '#66bb6a')
ax2.axhline(LAST_PRICE, color='#ff0000', lw=1.0, ls=(0, (1, 2.2)), zorder=3)
candles(ax2, do_, dh, dl, dc, 0.66)
for (p0, p1) in D_THICK_CHANNEL:
    ax2.plot([p0[0], p1[0]], [p0[1], p1[1]], color=ORANGE, lw=2.0, solid_capstyle='butt', zorder=6)
px_, py_ = zip(*D_PATH)
ax2.plot(px_, py_, color='#1848cc', lw=1.3, zorder=7)
ax2.annotate('', xy=D_PATH[-1], xytext=D_PATH[-2],
             arrowprops=dict(arrowstyle='->', color='#1848cc', lw=1.3, mutation_scale=14), zorder=7)
right_ticks(ax2, D_PRICE_TICKS, '%.5f')
price_box(ax2, LAST_PRICE, D_COUNTDOWN, 8, 24, D_PPX, 62 / 1380)
header(ax2, 67, 626, D_HEADER, D_CHANGE)

ax2o = fig.add_axes(px_rect(58, 1073, 1438, 1138))
clean(ax2o)
ax2o.set_xlim(*D_XLIM)
d_osc = oscillator(ax2o, dc, nD - 1)
s = np.nanmax(np.abs(d_osc)) / 28.0
ax2o.set_ylim(-29 * s, 36 * s)
right_ticks(ax2o, [0], '%.5f')

ax2s = fig.add_axes(px_rect(58, 1138, 1438, 1178))
clean(ax2s)
ax2s.set_xlim(*D_XLIM)
stoch_panel(ax2s, dc, dh, dl)
ax2s.set_ylim(-11.8, 129.4)
right_ticks(ax2s, [0, 100], '%.2f')

ax2t = fig.add_axes(px_rect(58, 1178, 1438, 1204))
clean(ax2t)
ax2t.set_yticks([])
ax2t.set_xlim(*D_XLIM)
d_dates = pd.bdate_range(D_START, periods=nD + 40)
time_axis(ax2t, d_dates, D_TIME_LABELS)

# ============================ FRAME / UI ============================
fig.add_artist(Rectangle((0, 1 - 3 / H), 1, 3 / H, transform=fig.transFigure, color='#363a45', zorder=15))
fig_line(2, 0, 2, 605, DARK, 2.5)
fig_line(1506, 0, 1506, 605, DARK, 2.5)
for yy in (471, 540, 579):
    fig_line(0, yy, 1508, yy, DARK, 1.3)
fig_line(0, 605.5, 1508, 605.5, DARK, 1.5)
fig_line(58, 4, 58, 605, '#5d606b', 1.0)
fig_line(1442, 3, 1442, 605, DARK, 1.4)
for yy in (1073, 1138, 1178):
    fig_line(5, yy, 1503, yy, DARK, 1.3)
fig_line(58, 609, 58, 1205, '#5d606b', 1.0)
fig_line(1438, 609, 1438, 1205, DARK, 1.4)
fig.add_artist(Rectangle((4 / W, 1 - 1206 / H), 1500 / W, 598 / H, transform=fig.transFigure,
                         fill=False, edgecolor='#2962ff', lw=2.2, zorder=16))

fig.text(1452 / W, 1 - 15 / H, 'USD \u02c5', fontsize=FS, color=TXT, va='center', ha='left')
fig.text(1448 / W, 1 - 620 / H, 'USD \u02c5', fontsize=FS, color=TXT, va='center', ha='left')
fig.text(48 / W, 1 - 543 / H, '100.00', fontsize=FS, color=TXT, va='center', ha='right')
fig.text(48 / W, 1 - 573 / H, '0.00', fontsize=FS, color=TXT, va='center', ha='right')
fig.text(48 / W, 1 - 1145 / H, '100.00', fontsize=FS, color=TXT, va='center', ha='right')
fig.text(87 / W, 1 - 648 / H, '\u02c5 12', fontsize=9.5, color='#333333', va='center', ha='center', zorder=13,
         bbox=dict(boxstyle='round,pad=0.35,rounding_size=0.3', fc='white', ec='#d1d4dc', lw=1.0))
fig.text(83 / W, 1 - 1158 / H, '\u02c5 2', fontsize=9.5, color='#333333', va='center', ha='center', zorder=13,
         bbox=dict(boxstyle='round,pad=0.35,rounding_size=0.3', fc='white', ec='#d1d4dc', lw=1.0))
fig.text(31 / W, 1 - 1193 / H, 'Z', fontsize=8.5, color='#50535e', va='center', ha='center', zorder=13,
         bbox=dict(boxstyle='circle,pad=0.5', fc='#eceef2', ec='none'))
fig.text(1472 / W, 1 - 1193 / H, 'A', fontsize=8.5, color='#50535e', va='center', ha='center', zorder=13,
         bbox=dict(boxstyle='circle,pad=0.5', fc='#eceef2', ec='none'))

fig.savefig('out.png', dpi=100, facecolor='white')
